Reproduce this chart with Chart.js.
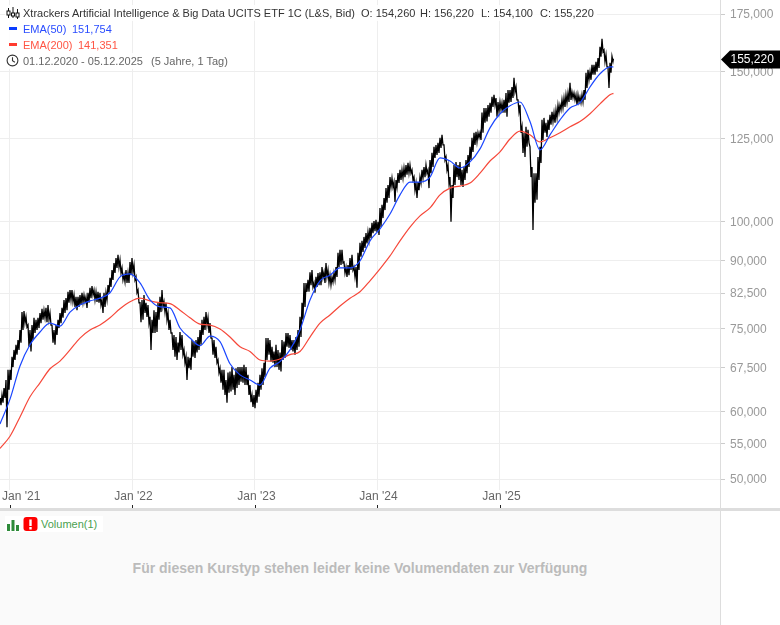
<!DOCTYPE html>
<html lang="de">
<head>
<meta charset="utf-8">
<title>Xtrackers Artificial Intelligence &amp; Big Data UCITS ETF 1C</title>
<script src="https://cdn.jsdelivr.net/npm/chart.js@4"></script>
<style>
  html, body { margin: 0; padding: 0; background: #fff; }
  body { font-family: "Liberation Sans", Arial, sans-serif; }
  #page { position: relative; width: 780px; height: 625px; overflow: hidden; }
  #priceChart { position: absolute; left: 0; top: 0; }
  .row { position: absolute; left: 5px; height: 16px; line-height: 16px; font-size: 11px; white-space: nowrap; background: rgba(255,255,255,.85); padding-right: 2px; }
  .row svg, .row i { position: absolute; }
  .row span { position: absolute; top: 0; }
  .row i { display: block; left: 4px; top: 6px; width: 8px; height: 3px; }
  #divider { position: absolute; left: 0; top: 508px; width: 780px; height: 3px; background: #ddd; }
  #volPanel { position: absolute; left: 0; top: 511px; width: 720px; height: 114px; background: #fafafa; border-right: 1px solid #ddd; }
  #volLegend { position: absolute; left: 5px; top: 5px; width: 98px; height: 16px; background: #fff; }
  #volLegend span { position: absolute; left: 36px; top: 0; line-height: 16px; font-size: 11px; color: #4a9f4f; }
  #volLegend svg { position: absolute; top: 0; left: 0; }
  #volMessage { position: absolute; left: 0; width: 720px; top: 48px; text-align: center; font-size: 14px; font-weight: bold; color: #bbb; line-height: 18px; }
</style>
</head>
<body>
<div id="page">
  <canvas id="priceChart" width="780" height="508"></canvas>

  <div class="row" style="top:5px;width:590px;color:#333">
    <svg width="16" height="16" style="left:0;top:0" stroke="#111" fill="none" stroke-width="1">
      <path d="M3.5 3v10M8 2v11M12.5 4v10"/>
      <rect x="2" y="6" width="3" height="4" fill="#fff"/><rect x="6.5" y="8" width="3" height="3" fill="#fff"/><rect x="11" y="8" width="3" height="4" fill="#fff"/>
    </svg>
    <span style="left:18px">Xtrackers Artificial Intelligence &amp; Big Data UCITS ETF 1C (L&amp;S, Bid)</span>
    <span style="left:356px">O: 154,260</span>
    <span style="left:415px">H: 156,220</span>
    <span style="left:476px">L: 154,100</span>
    <span style="left:535px">C: 155,220</span>
  </div>
  <div class="row" style="top:21px;width:109px;color:#2a4dff">
    <i style="background:#0a3cff"></i>
    <span style="left:18px">EMA(50)</span><span style="left:67px">151,754</span>
  </div>
  <div class="row" style="top:37px;width:115px;color:#ff5544">
    <i style="background:#ff3b2f"></i>
    <span style="left:18px">EMA(200)</span><span style="left:73px">141,351</span>
  </div>
  <div class="row" style="top:53px;width:224px;color:#666">
    <svg width="16" height="16" style="left:0;top:0" stroke="#333" fill="none" stroke-width="1.1">
      <circle cx="7.5" cy="7.5" r="5.4"/><path d="M7.5 4.2v3.5l2.4 1.6"/>
    </svg>
    <span style="left:18px">01.12.2020 - 05.12.2025</span>
    <span style="left:146px">(5 Jahre, 1 Tag)</span>
  </div>

  <div id="divider"></div>
  <div id="volPanel">
    <div id="volLegend">
      <svg width="36" height="16">
        <path d="M2 8h3v7H2zM6.5 4h3v11h-3zM11 9h3v6h-3z" fill="#2e8b3a"/>
        <rect x="18.5" y="1" width="14" height="14" rx="3" fill="#f00"/>
        <path d="M24.3 3.5h2.4v6.5h-2.4zM24.3 11h2.4v2.4h-2.4z" fill="#fff"/>
      </svg>
      <span>Volumen(1)</span>
    </div>
    <div id="volMessage">Für diesen Kurstyp stehen leider keine Volumendaten zur Verfügung</div>
  </div>
</div>

<script>
// axis setup, dates are decimal years
const firstYear = 2020.9224;
const lastYear = 2025.93;
const axisEndYear = 2026.8;
const samplesPerYear = 61.25;
const emaEvery = 5; // one EMA reading per five price samples

const yearTicks = [2021, 2022, 2023, 2024, 2025];
const yearLabels = ["Jan '21", "Jan '22", "Jan '23", "Jan '24", "Jan '25"];
const priceTicks = [50, 55, 60, 67.5, 75, 82.5, 90, 100, 125, 150, 175];
const priceMin = 48.54;
const priceMax = 181.78;
const lastClose = 155.22;

const priceHigh = [
  62.2,62.7,63.9,65.3,67.1,67.1,69.5,70.8,71.8,72.7,74.7,78.4,78.6,77.4,75.7,74.7,75.7,77.2,76.8,77.2,
  78.2,79.1,78.8,79.3,79.9,78.2,75.7,74.7,75.7,76.8,78.2,79.3,81.0,81.4,82.8,83.2,83.2,82.1,81.7,81.7,
  82.1,82.6,82.1,81.7,82.6,83.7,84.1,83.2,82.8,82.8,82.6,81.0,82.6,82.6,84.3,86.0,87.8,89.5,90.7,91.5,
  90.2,88.3,86.6,87.8,87.1,89.7,90.7,89.0,86.2,83.2,80.4,81.0,82.1,80.4,79.9,77.4,76.8,78.8,78.4,80.4,
  81.7,83.2,80.6,80.4,78.2,76.8,74.1,73.7,73.3,72.2,74.3,73.7,70.8,69.5,69.5,69.3,72.7,72.4,72.7,73.3,
  74.7,76.8,77.4,78.4,77.2,76.1,73.1,72.7,71.4,68.9,67.4,67.1,67.1,65.3,66.6,66.8,67.6,66.2,67.4,67.6,
  67.6,67.6,68.0,67.6,66.2,64.4,62.7,62.7,63.6,64.8,66.2,67.4,68.4,73.1,73.1,72.7,71.4,70.5,71.8,70.8,
  70.3,72.7,72.4,74.1,74.1,73.7,72.7,72.7,73.3,74.7,77.4,80.4,84.8,84.8,85.5,87.3,87.8,84.8,86.2,87.1,
  87.3,88.5,87.3,89.5,87.8,86.6,86.2,87.1,88.5,92.0,92.7,92.7,89.7,88.5,89.0,90.7,91.5,88.5,88.5,92.0,
  94.5,95.0,96.0,97.0,97.3,98.4,99.7,100.2,100.5,100.0,103.8,104.7,106.6,109.5,110.4,112.8,112.5,111.3,111.9,114.0,
  115.0,115.0,115.6,116.5,117.2,116.5,115.0,112.8,111.0,111.3,112.8,115.0,115.9,116.5,115.0,118.1,120.4,122.4,123.0,123.7,
  125.4,126.4,123.0,119.1,116.5,112.8,110.4,116.5,117.5,116.5,117.5,115.0,115.9,118.1,119.7,122.4,125.4,127.1,127.4,127.1,
  127.1,134.2,135.9,135.9,137.0,137.8,140.0,140.8,139.6,138.1,138.1,137.8,138.9,141.5,142.6,142.6,143.8,147.4,143.8,138.9,
  137.0,129.2,127.1,129.2,128.1,122.4,115.9,114.0,114.0,119.1,122.4,131.6,132.3,130.6,131.6,133.4,134.5,134.2,135.2,137.0,
  137.0,138.9,139.6,140.8,141.5,145.4,141.9,141.5,140.8,140.8,140.0,140.8,142.6,149.4,150.6,149.8,152.7,152.7,153.9,155.5,
  160.2,163.7,158.9,156.8,151.8,153.5,156.22
];

const priceLow = [
  61.0,61.4,62.2,57.5,63.6,65.3,67.6,68.9,69.9,70.8,72.2,74.7,76.1,75.3,71.4,70.5,72.7,74.1,74.7,75.1,
  76.1,76.8,77.2,76.3,76.8,75.7,72.2,71.8,73.7,75.1,76.1,77.2,78.2,78.8,80.4,81.0,80.6,79.5,78.8,79.5,
  79.9,80.4,80.6,79.3,80.4,81.4,82.1,81.0,80.6,80.4,79.9,78.2,79.5,81.0,82.6,83.9,85.5,87.1,88.3,88.5,
  87.1,85.5,85.0,84.8,84.8,86.6,87.3,85.5,82.6,80.4,76.3,76.8,78.2,77.4,76.1,70.8,74.1,74.1,74.3,76.8,
  78.4,79.5,78.4,76.8,74.7,74.1,70.8,69.5,68.9,70.3,70.8,69.9,68.4,65.3,67.4,67.1,69.5,69.3,70.3,70.8,
  71.8,73.7,74.7,75.7,74.1,73.1,69.9,69.3,68.4,66.6,64.8,63.6,62.7,61.4,63.1,63.3,63.6,62.7,63.9,64.4,
  65.0,64.8,64.4,64.4,62.7,61.5,60.7,60.5,61.4,62.4,63.6,64.4,65.8,68.9,69.9,68.6,68.4,67.6,67.6,67.1,
  66.8,68.9,69.3,71.4,71.2,70.8,70.5,69.9,70.8,71.4,73.3,76.8,79.5,82.8,82.8,84.3,83.9,82.6,83.9,84.3,
  84.3,86.0,84.8,86.2,84.8,84.3,85.0,85.5,86.2,88.5,89.0,89.5,87.1,86.2,86.6,87.8,87.8,86.2,83.7,87.8,
  91.0,92.2,93.2,94.3,95.2,95.7,97.0,97.5,97.3,96.5,98.6,101.0,103.2,105.3,106.6,109.8,109.8,105.5,109.8,111.0,
  111.9,112.5,112.8,113.5,114.0,114.0,111.9,108.9,106.6,108.9,111.0,112.5,112.8,114.0,109.5,114.0,115.9,118.8,119.7,120.4,
  122.0,123.0,118.1,115.0,111.0,100.0,106.6,110.4,112.8,111.9,110.4,109.8,111.9,114.0,115.9,118.1,120.7,123.0,124.0,125.4,
  124.7,127.1,130.6,131.0,132.7,134.2,136.3,137.0,132.7,134.5,135.2,134.2,134.2,132.7,137.8,138.1,139.6,141.9,138.9,134.5,
  127.1,120.4,119.1,122.4,123.7,112.8,97.8,105.3,106.1,111.9,117.2,124.7,127.1,125.7,128.1,129.9,131.0,130.6,132.3,134.2,
  135.2,135.9,136.3,137.8,138.1,138.9,139.6,138.9,137.0,138.1,137.8,138.1,138.9,143.4,146.6,146.6,148.6,148.6,149.8,151.4,
  156.0,158.1,153.9,151.8,143.4,149.4,154.10
];

const ema50 = [
  58.0,62.0,67.8,71.8,74.3,76.1,75.5,78.4,79.9,80.8,81.4,82.6,86.2,86.9,84.8,81.0,79.5,79.3,75.1,73.1,
  71.6,73.5,72.4,68.2,66.2,65.3,64.4,67.4,68.6,70.8,74.7,81.0,85.3,86.6,88.3,88.3,90.0,95.0,98.1,102.1,
  107.5,111.3,111.3,112.8,118.8,117.8,115.6,117.5,121.7,128.8,133.8,136.7,138.1,131.0,121.4,126.4,131.6,135.9,137.8,143.8,
  149.0,151.8,151.754
];

const ema200 = [
  54.3,56.1,59.1,62.4,64.8,67.3,68.7,70.8,73.1,74.7,75.7,77.2,79.1,80.6,81.4,80.8,80.4,80.2,78.8,77.2,
  75.9,75.7,74.9,73.3,71.4,70.5,68.9,68.7,69.1,69.9,70.5,73.3,76.1,77.8,79.7,81.4,82.8,85.3,88.1,91.2,
  95.0,98.6,101.6,103.8,107.5,109.5,110.1,111.0,114.0,117.8,120.7,125.0,127.7,126.4,124.0,125.4,127.1,129.2,131.0,133.8,
  137.4,140.8,141.351
];

const sampleYear = i => firstYear + i / samplesPerYear;

// high and low of each sample joined into one jagged path
const pricePath = [];
priceHigh.forEach((high, i) => {
  pricePath.push({ x: sampleYear(i), y: high });
  pricePath.push({ x: sampleYear(i + 0.5), y: priceLow[i] });
});
pricePath.push({ x: lastYear, y: lastClose });

// the last EMA reading belongs to the last trading day
const emaPath = values => values.map((v, i) => ({
  x: i === values.length - 1 ? lastYear : sampleYear(i * emaEvery),
  y: v
}));

const formatPrice = v => v.toFixed(3).replace('.', ',');

// month labels, their tick marks and the black price tag on the right
const overlay = {
  id: 'overlay',
  afterDraw(chart) {
    const { ctx, chartArea, scales: { x, y } } = chart;
    ctx.save();

    // the price axis line carries on down to the divider
    ctx.strokeStyle = '#ddd';
    ctx.beginPath();
    ctx.moveTo(chartArea.right + 0.5, chartArea.bottom);
    ctx.lineTo(chartArea.right + 0.5, 508);
    ctx.stroke();

    ctx.font = '12px "Liberation Sans", Arial, sans-serif';
    ctx.textBaseline = 'middle';
    ctx.textAlign = 'center';
    yearTicks.forEach((year, i) => {
      const px = Math.round(x.getPixelForValue(year)) + 0.5;
      const half = ctx.measureText(yearLabels[i]).width / 2;
      ctx.fillStyle = '#666';
      ctx.fillText(yearLabels[i], Math.max(px + 1, half + 2), 497);
      ctx.strokeStyle = '#222';
      ctx.beginPath();
      ctx.moveTo(px, 505);
      ctx.lineTo(px, 508);
      ctx.stroke();
    });

    const tagY = Math.round(y.getPixelForValue(lastClose)) + 0.5;
    ctx.fillStyle = '#000';
    ctx.beginPath();
    ctx.moveTo(721, tagY);
    ctx.lineTo(730, tagY - 9);
    ctx.lineTo(780, tagY - 9);
    ctx.lineTo(780, tagY + 9);
    ctx.lineTo(730, tagY + 9);
    ctx.closePath();
    ctx.fill();
    ctx.fillStyle = '#fff';
    ctx.textAlign = 'left';
    ctx.fillText(formatPrice(lastClose), 730.5, tagY + 0.5);
    ctx.restore();
  }
};

new Chart(document.getElementById('priceChart').getContext('2d'), {
  type: 'line',
  data: {
    datasets: [
      { label: 'EMA(50)', data: emaPath(ema50), borderColor: '#1a46ff', borderWidth: 1.2, pointRadius: 0, cubicInterpolationMode: 'monotone' },
      { label: 'EMA(200)', data: emaPath(ema200), borderColor: '#f6483a', borderWidth: 1.2, pointRadius: 0, cubicInterpolationMode: 'monotone' },
      { label: 'Kurs', data: pricePath, borderColor: '#000', borderWidth: 1.3, pointRadius: 0, tension: 0 }
    ]
  },
  options: {
    responsive: false,
    animation: false,
    layout: { padding: 0 },
    plugins: { legend: { display: false }, tooltip: { enabled: false } },
    scales: {
      x: {
        type: 'linear',
        min: firstYear,
        max: axisEndYear,
        bounds: 'data',
        afterBuildTicks: s => { s.ticks = yearTicks.map(value => ({ value })); },
        afterFit: s => { s.height = 18; },
        grid: { color: '#eee', drawTicks: false },
        border: { display: false },
        ticks: { display: false, autoSkip: false }
      },
      y: {
        type: 'logarithmic',
        position: 'right',
        min: priceMin,
        max: priceMax,
        bounds: 'data',
        afterBuildTicks: s => { s.ticks = priceTicks.map(value => ({ value })); },
        afterFit: s => { s.width = 60; s.paddingTop = 0; s.paddingBottom = 0; },
        grid: { color: '#eee', tickColor: '#ccc', tickLength: 5 },
        border: { color: '#ddd' },
        ticks: {
          autoSkip: false,
          padding: 5,
          labelOffset: 1,
          color: '#999',
          font: { family: '"Liberation Sans", Arial, sans-serif', size: 12 },
          callback: v => formatPrice(v)
        }
      }
    }
  },
  plugins: [overlay]
});
</script>
</body>
</html>
